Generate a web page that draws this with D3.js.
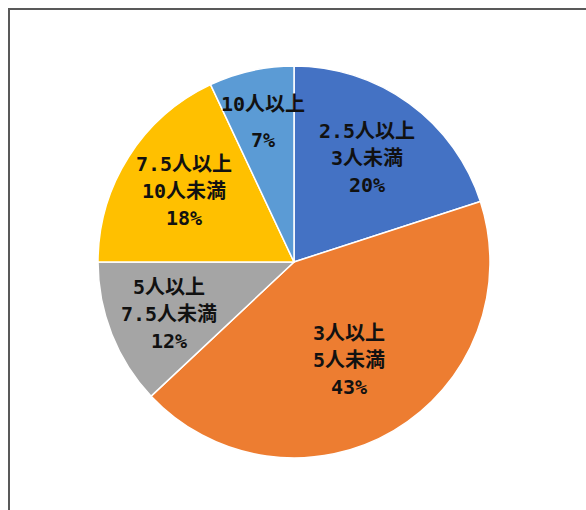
<!DOCTYPE html>
<html>
<head>
<meta charset="utf-8">
<script src="https://cdn.jsdelivr.net/npm/d3@7"></script>
<style>
  body { margin: 0; background: #fff; }
  svg { display: block; }
</style>
</head>
<body>
<svg width="586" height="510"></svg>
<script>
const width = 586
const height = 510

// data
const categories = [
  ["2.5人以上", "3人未満"],
  ["3人以上", "5人未満"],
  ["5人以上", "7.5人未満"],
  ["7.5人以上", "10人未満"],
  ["10人以上"]
]
const shares = [20, 43, 12, 18, 7]
const colors = ["#4472C4", "#ED7D31", "#A5A5A5", "#FFC000", "#5B9BD5"]

let cx = 294
let cy = 262
let radius = 196

let svg = d3.select("svg")

// outer frame, runs off the right and bottom edge
svg.append("rect")
  .attr("x", 9)
  .attr("y", 9)
  .attr("width", 620)
  .attr("height", 540)
  .attr("fill", "none")
  .attr("stroke", "#595959")
  .attr("stroke-width", 2)

let pie = d3.pie().sort(null).value(d => d)
let arcs = pie(shares)
let arcGen = d3.arc().innerRadius(0).outerRadius(radius)

let g = svg.append("g").attr("transform", `translate(${cx},${cy})`)

g.selectAll("path")
  .data(arcs)
  .enter()
  .append("path")
  .attr("d", arcGen)
  .attr("fill", (d, i) => colors[i])
  .attr("stroke", "white")
  .attr("stroke-width", 1.5)

const labelCenters = [[367, 158], [349, 360], [169, 314], [184, 191], [263, 122]]

const lineGap = 27
labelCenters.forEach((c, i) => {
  let lines = categories[i].concat([shares[i] + "%"])
  let gap = i === 4 ? 36 : lineGap
  let top = c[1] - (lines.length - 1) * gap / 2
  let t = svg.append("text")
    .attr("text-anchor", "middle")
    .attr("font-family", "'DejaVu Sans Mono', 'Noto Sans CJK JP', sans-serif")
    .attr("font-weight", "bold")
    .attr("font-size", "20px")
    .attr("fill", "#111")
  lines.forEach((ln, j) => {
    t.append("tspan")
      .attr("x", c[0])
      .attr("y", top + j * gap)
      .attr("dy", "0.36em")
      .text(ln)
  })
})
</script>
</body>
</html>
